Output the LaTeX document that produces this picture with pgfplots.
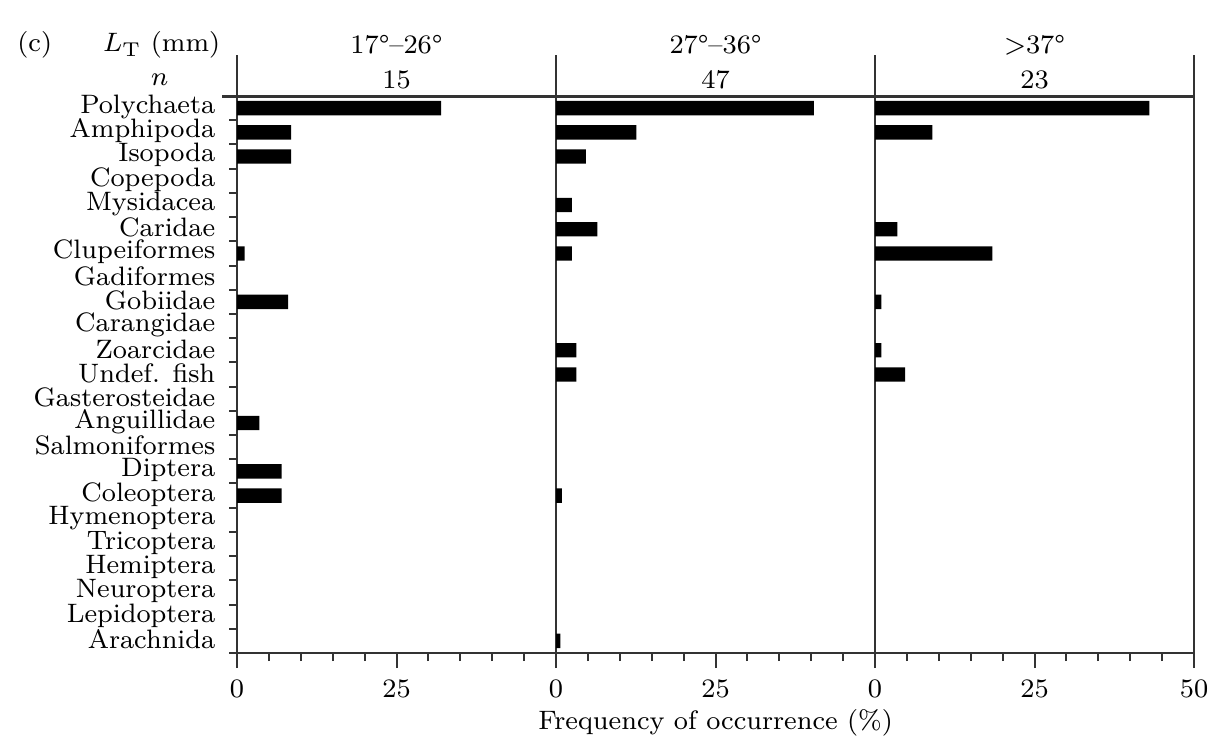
\documentclass[border=0pt]{standalone}
\usepackage{fontspec}
\usepackage{pgfplots}
\pgfplotsset{compat=1.18}
\begin{document}
\begin{tikzpicture}[font=\fontsize{8}{9.5}\selectfont]
\useasboundingbox (0pt,0pt) rectangle (363.3pt,223.2pt);
\pgfplotsset{
 panel/.style={
  at={(#1,27.3pt)}, anchor=south west, scale only axis, width=95.7pt, height=167.1pt,
  xmin=0, xmax=50, ymin=-0.5, ymax=22.5, y dir=reverse,
  axis x line*=bottom, axis y line*=left,
  axis line style={line width=0.75pt, color=black!80},
  tick align=outside, major tick length=4.5pt, minor tick length=2.4pt,
  tick style={color=black!80, line width=0.6pt},
  minor xtick={5,10,...,45},
  xtick={0,25},
  ytick=\empty,
  xbar, bar width=4.3pt,
  clip=false,
  /pgf/number format/assume math mode=true,
 }
}
% ---------- panel 1 ----------
\begin{axis}[panel=71.1pt,
  ytick={0,...,22},
  yticklabels={Polychaeta,Amphipoda,Isopoda,Copepoda,Mysidacea,Caridae,Clupeiformes,Gadiformes,Gobiidae,Carangidae,Zoarcidae,Undef. fish,Gasterosteidae,Anguillidae,Salmoniformes,Diptera,Coleoptera,Hymenoptera,Tricoptera,Hemiptera,Neuroptera,Lepidoptera,Arachnida},
  minor ytick={-0.5,0.5,...,22.5},
  every major y tick/.append style={draw=none},
  yticklabel style={xshift=1.5pt, yshift=0.4pt},
]
\addplot[fill=black, draw=none] coordinates {
 (32.0,0) (8.5,1) (8.5,2) (1.2,6) (8.0,8) (3.5,13) (7.0,15) (7.0,16)};
\draw[line width=0.9pt, black!80] ([xshift=-4.5pt]axis cs:0,-0.5) -- (axis cs:150,-0.5);
\draw[line width=0.75pt, black!80] (axis cs:0,-0.5) -- (axis cs:0,-2.2);
\node at (axis cs:-31.7,-2.6) {(c)};
\node at (axis cs:-11.8,-2.6) {$L_{\mathrm{T}}$ (mm)};
\node at (axis cs:-12.1,-1.16) {$n$};
\node at (axis cs:25,-2.6) {17°–26°};
\node at (axis cs:25,-1.16) {15};
\end{axis}
% ---------- panel 2 ----------
\begin{axis}[panel=166.8pt,
  xlabel={Frequency of occurrence (\%)},
  xlabel style={yshift=3.5pt},
]
\addplot[fill=black, draw=none] coordinates {
 (40.4,0) (12.6,1) (4.7,2) (2.5,4) (6.5,5) (2.5,6) (3.2,10) (3.2,11) (0.9,16) (0.7,22)};
\draw[line width=0.75pt, black!80] (axis cs:0,-0.5) -- (axis cs:0,-2.2);
\node at (axis cs:25,-2.6) {27°–36°};
\node at (axis cs:25,-1.16) {47};
\end{axis}
% ---------- panel 3 ----------
\begin{axis}[panel=262.5pt,
  xtick={0,25,50},
]
\addplot[fill=black, draw=none] coordinates {
 (43.0,0) (9.0,1) (3.5,5) (18.4,6) (1.0,8) (1.0,10) (4.7,11)};
\draw[line width=0.75pt, black!80] (axis cs:0,-0.5) -- (axis cs:0,-2.2);
\draw[line width=0.75pt, black!80] (axis cs:50,22.5) -- (axis cs:50,-2.2);
\node at (axis cs:25,-2.6) {>37°};
\node at (axis cs:25,-1.16) {23};
\end{axis}
\end{tikzpicture}
\end{document}
